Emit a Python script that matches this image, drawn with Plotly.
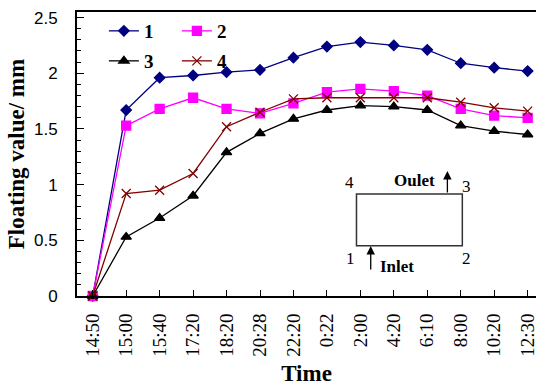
import plotly.graph_objects as go

times = ["14:50", "15:00", "15:40", "17:20", "18:20", "20:28", "22:20", "0:22",
         "2:00", "4:20", "6:10", "8:00", "10:20", "12:30"]
s1 = [0, 1.67, 1.96, 1.98, 2.01, 2.03, 2.14, 2.24, 2.28, 2.25, 2.21, 2.09, 2.05, 2.02]
s2 = [0, 1.53, 1.68, 1.78, 1.68, 1.64, 1.73, 1.83, 1.86, 1.84, 1.80, 1.68, 1.62, 1.60]
s3 = [0, 0.53, 0.70, 0.90, 1.29, 1.46, 1.59, 1.67, 1.71, 1.70, 1.67, 1.53, 1.48, 1.45]
s4 = [0, 0.92, 0.95, 1.10, 1.52, 1.65, 1.77, 1.78, 1.78, 1.78, 1.78, 1.74, 1.69, 1.66]
names = ["1", "2", "3", "4"]

W, H = 538, 386
L, T, R, B = 77, 12, 538, 296

def px(x):
    return (x - L) / (R - L)

def py(y):
    return (B - y) / (B - T)

SERIF = "Liberation Serif"
SANS = "Liberation Sans"

fig = go.Figure()
styles = [
    dict(color="#000080", symbol="diamond", size=8, leg="legend"),
    dict(color="#FF00FF", symbol="square", size=9, leg="legend"),
    dict(color="#000000", symbol="triangle-up", size=9, leg="legend2"),
    dict(color="#800000", symbol="x-thin", size=9, leg="legend2"),
]
for name, ys, st in zip(names, [s1, s2, s3, s4], styles):
    fig.add_trace(go.Scatter(
        x=times, y=ys, name=name, mode="lines+markers",
        line=dict(color=st["color"], width=1.3),
        marker=dict(symbol=st["symbol"], size=st["size"], color=st["color"],
                    line=dict(color=st["color"], width=1.3)),
        legend=st["leg"], cliponaxis=False,
    ))

legfont = dict(family=SERIF, size=19, color="black", weight="bold")
fig.update_layout(
    width=W, height=H,
    margin=dict(l=L, r=W - R, t=T, b=H - B),
    paper_bgcolor="white", plot_bgcolor="white",
    showlegend=True,
    legend=dict(orientation="h", x=px(104), y=py(31), xanchor="left", yanchor="middle",
                font=legfont, bgcolor="rgba(0,0,0,0)", entrywidth=28, tracegroupgap=0),
    legend2=dict(orientation="h", x=px(104), y=py(61), xanchor="left", yanchor="middle",
                 font=legfont, bgcolor="rgba(0,0,0,0)", entrywidth=28, tracegroupgap=0),
    xaxis=dict(
        type="category", range=[-0.47, 13.25],
        showline=True, linecolor="black", linewidth=2, mirror=True,
        ticks="inside", ticklen=6, tickcolor="black", tickwidth=1,
        tickangle=-90, tickfont=dict(family=SERIF, size=19, color="black"),
        ticklabelstandoff=8, showgrid=False, zeroline=False,
        title=dict(text="<b>Time</b>", font=dict(family=SERIF, size=23, color="black"), standoff=10),
    ),
    yaxis=dict(
        range=[0, 2.55], tickvals=[0, 0.5, 1, 1.5, 2, 2.5],
        ticktext=["0", "0.5", "1", "1.5", "2", "2.5"],
        showline=True, linecolor="black", linewidth=2, mirror=False,
        ticks="inside", ticklen=7, tickcolor="black", tickwidth=1,
        minor=dict(dtick=0.1, ticks="inside", ticklen=4, tickcolor="black", tickwidth=1),
        tickfont=dict(family=SANS, size=17, color="black"),
        ticklabelstandoff=14, showgrid=False, zeroline=False,
        title=dict(text="<b>Floating value/ mm</b>", font=dict(family=SERIF, size=23, color="black"), standoff=3),
    ),
)

# inset diagram
fig.add_shape(type="rect", xref="paper", yref="paper",
              x0=px(357.7), x1=px(464), y0=py(245.7), y1=py(194),
              line=dict(color="#333333", width=1.5))
ann = []
def lab(x, y, t, bold=False, size=17):
    ann.append(dict(x=px(x), y=py(y), xref="paper", yref="paper", showarrow=False,
                    text=f"<b>{t}</b>" if bold else t,
                    font=dict(family=SERIF, size=size, color="black"),
                    xanchor="center", yanchor="middle"))
lab(351, 182, "4")
lab(468, 186, "3")
lab(352, 258, "1")
lab(468, 258, "2")
lab(416, 180, "Oulet", bold=True, size=17)
lab(398, 266, "Inlet", bold=True, size=17)
ann.append(dict(x=px(449), y=py(171), xref="paper", yref="paper", ax=0, ay=23,
                showarrow=True, arrowhead=2, arrowsize=1.3, arrowwidth=1.3,
                arrowcolor="black", text=""))
ann.append(dict(x=px(372), y=py(246), xref="paper", yref="paper", ax=0, ay=25,
                showarrow=True, arrowhead=2, arrowsize=1.3, arrowwidth=1.3,
                arrowcolor="black", text=""))
fig.update_layout(annotations=ann)

fig.write_html("out.html")
